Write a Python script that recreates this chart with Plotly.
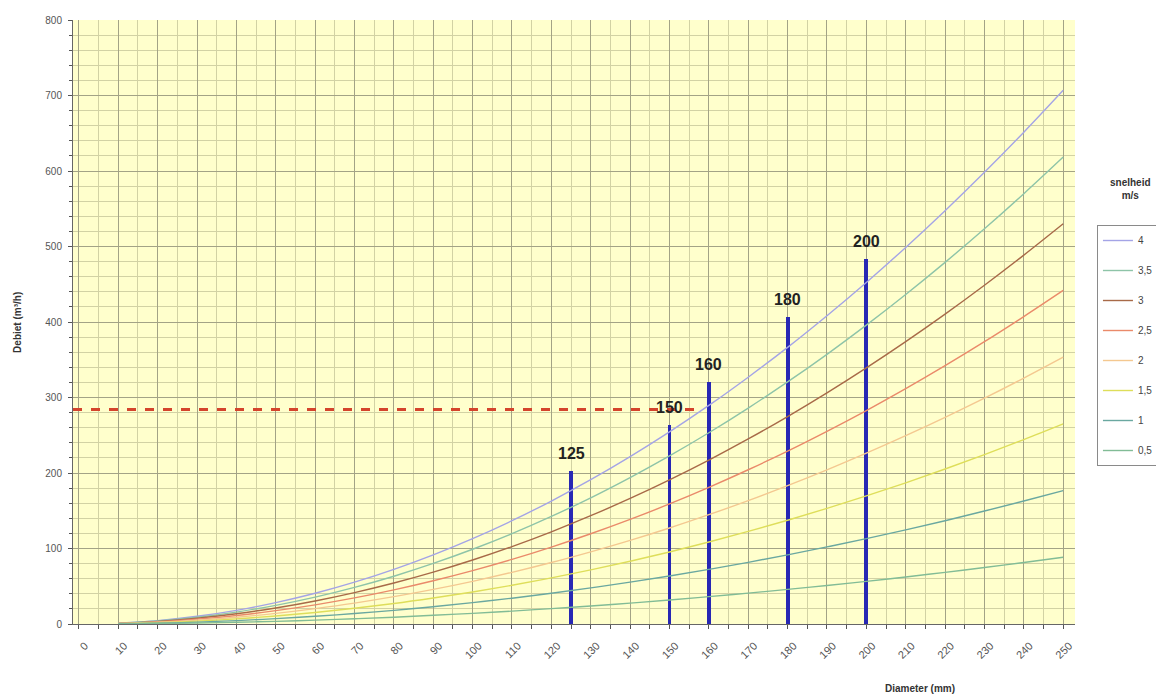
import plotly.graph_objects as go

# Diameter (mm)
diameter = [10, 20, 30, 40, 50, 60, 70, 80, 90, 100, 110, 120, 130, 140, 150,
            160, 170, 180, 190, 200, 210, 220, 230, 240, 250]

# Debiet (m3/h) per snelheid (m/s)
q_4 = [1.1, 4.5, 10.2, 18.1, 28.3, 40.7, 55.4, 72.4, 91.6, 113.1, 136.8, 162.9, 191.1, 221.7, 254.5,
       289.5, 326.9, 366.4, 408.3, 452.4, 498.8, 547.4, 598.3, 651.4, 706.9]
q_3_5 = [1.0, 4.0, 8.9, 15.8, 24.7, 35.6, 48.5, 63.3, 80.2, 99.0, 119.7, 142.5, 167.2, 194.0, 222.7,
         253.3, 286.0, 320.6, 357.2, 395.8, 436.4, 479.0, 523.5, 570.0, 618.5]
q_3 = [0.8, 3.4, 7.6, 13.6, 21.2, 30.5, 41.6, 54.3, 68.7, 84.8, 102.6, 122.1, 143.4, 166.3, 190.9,
       217.1, 245.1, 274.8, 306.2, 339.3, 374.1, 410.5, 448.7, 488.6, 530.1]
q_2_5 = [0.7, 2.8, 6.4, 11.3, 17.7, 25.4, 34.6, 45.2, 57.3, 70.7, 85.5, 101.8, 119.5, 138.5, 159.0,
         181.0, 204.3, 229.0, 255.2, 282.7, 311.7, 342.1, 373.9, 407.2, 441.8]
q_2 = [0.6, 2.3, 5.1, 9.0, 14.1, 20.4, 27.7, 36.2, 45.8, 56.5, 68.4, 81.4, 95.6, 110.8, 127.2,
       144.8, 163.4, 183.2, 204.1, 226.2, 249.4, 273.7, 299.1, 325.7, 353.4]
q_1_5 = [0.4, 1.7, 3.8, 6.8, 10.6, 15.3, 20.8, 27.1, 34.4, 42.4, 51.3, 61.1, 71.7, 83.1, 95.4,
         108.6, 122.6, 137.4, 153.1, 169.6, 187.0, 205.3, 224.4, 244.3, 265.1]
q_1 = [0.3, 1.1, 2.5, 4.5, 7.1, 10.2, 13.9, 18.1, 22.9, 28.3, 34.2, 40.7, 47.8, 55.4, 63.6,
       72.4, 81.7, 91.6, 102.1, 113.1, 124.7, 136.8, 149.6, 162.9, 176.7]
q_0_5 = [0.1, 0.6, 1.3, 2.3, 3.5, 5.1, 6.9, 9.0, 11.5, 14.1, 17.1, 20.4, 23.9, 27.7, 31.8,
         36.2, 40.9, 45.8, 51.0, 56.5, 62.3, 68.4, 74.8, 81.4, 88.4]

series_names = ["4", "3,5", "3", "2,5", "2", "1,5", "1", "0,5"]
series_values = [q_4, q_3_5, q_3, q_2_5, q_2, q_1_5, q_1, q_0_5]
series_colors = ["#a4a4e6", "#8ec4a8", "#a86a48", "#ea8a6a", "#f4c890", "#dede5a", "#6aa8a0", "#82bc96"]

# Marked pipe diameters (blue bars)
bar_diameters = [125, 150, 160, 180, 200]
bar_values = [202, 264, 321, 406, 483]
bar_labels = ["125", "150", "160", "180", "200"]

# Red dashed reference flow
ref_x = [-1.5, 157]
ref_y = [284, 284]

FONT = "Arial, Liberation Sans, sans-serif"

fig = go.Figure()

for name, vals, col in zip(series_names, series_values, series_colors):
    fig.add_trace(go.Scatter(
        x=diameter, y=vals, mode="lines", name=name,
        line=dict(color=col, width=1.4, shape="spline"),
        legendgroup=name,
    ))

fig.add_trace(go.Scatter(
    x=ref_x, y=ref_y, mode="lines", showlegend=False,
    line=dict(color="#d4442c", width=3, dash="dash"),
))

fig.add_trace(go.Bar(
    x=bar_diameters, y=bar_values, width=1.0,
    marker=dict(color="#2828b4", line=dict(width=0)),
    showlegend=False,
))

for bx, by, bl in zip(bar_diameters, bar_values, bar_labels):
    fig.add_annotation(
        x=bx, y=by, text="<b>" + bl + "</b>", showarrow=False,
        xanchor="center", yanchor="bottom", yshift=7,
        font=dict(family=FONT, size=16, color="#222222"),
    )

fig.update_layout(
    width=1156, height=690,
    margin=dict(l=65, r=89, t=12, b=74, autoexpand=False),
    paper_bgcolor="white",
    plot_bgcolor="#ffffcc",
    font=dict(family=FONT, size=10, color="#444444"),
    showlegend=True,
    legend=dict(
        xref="container", yref="container",
        x=0.942, y=0.6855, xanchor="left", yanchor="top",
        bgcolor="white", bordercolor="#8a8a8a", borderwidth=1,
        font=dict(family=FONT, size=10, color="#444444"),
        traceorder="grouped", tracegroupgap=11,
        itemwidth=30,
    ),
    bargap=0,
)

fig.update_xaxes(
    range=[-1.5, 253], tick0=0, dtick=10,
    tickangle=-45, ticklabelshift=6, ticklabelstandoff=6,
    tickfont=dict(size=11, color="#555555"),
    showgrid=True, gridcolor="#a3a386", gridwidth=1,
    ticks="outside", ticklen=4, tickcolor="#555555",
    showline=True, linecolor="#666666", linewidth=1,
    zeroline=False, automargin=False,
    minor=dict(dtick=5, tick0=0, showgrid=True, gridcolor="#d2d2a4",
               ticks="outside", ticklen=4, tickcolor="#555555"),
)

fig.update_yaxes(
    range=[0, 800], dtick=100,
    tickfont=dict(size=10, color="#555555"),
    showgrid=True, gridcolor="#a3a386", gridwidth=1,
    ticks="outside", ticklen=4, tickcolor="#555555",
    showline=True, linecolor="#666666", linewidth=1,
    zeroline=False, automargin=False, ticklabelstandoff=4,
    minor=dict(dtick=20, showgrid=True, gridcolor="#d2d2a4",
               ticks="outside", ticklen=3, tickcolor="#555555"),
)

fig.add_annotation(
    xref="paper", yref="paper", x=-0.056, y=0.5,
    text="<b>Debiet (m³/h)</b>", showarrow=False, textangle=-90,
    font=dict(family=FONT, size=10, color="#333333"),
    xanchor="center", yanchor="middle",
)
fig.add_annotation(
    xref="paper", yref="paper", x=0.845, y=-0.106,
    text="<b>Diameter (mm)</b>", showarrow=False,
    font=dict(family=FONT, size=10, color="#333333"),
    xanchor="center", yanchor="middle",
)
fig.add_annotation(
    xref="paper", yref="paper", x=1.055, y=0.72,
    text="<b>snelheid<br>m/s</b>", showarrow=False,
    font=dict(family=FONT, size=10, color="#333333"),
    xanchor="center", yanchor="middle",
)

fig.write_html("out.html")
